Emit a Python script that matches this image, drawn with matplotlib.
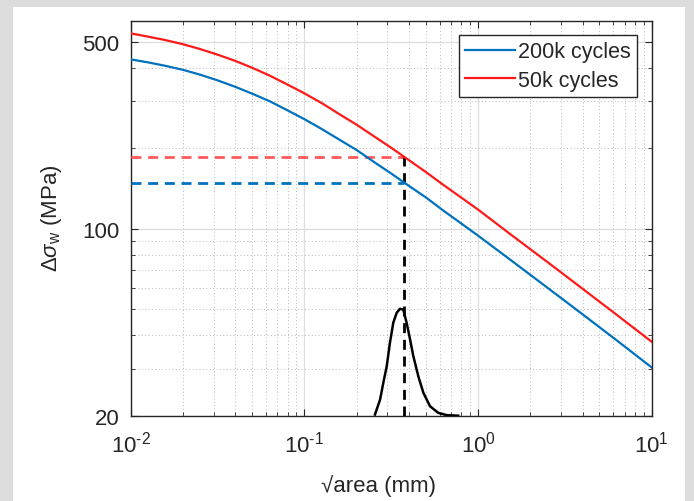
import matplotlib
matplotlib.use("Agg")
import matplotlib.pyplot as plt
from matplotlib.patches import Rectangle
from matplotlib.ticker import FixedLocator, FixedFormatter, LogLocator, NullFormatter

plt.rcParams['font.family'] = ['Liberation Sans', 'DejaVu Sans']
plt.rcParams['mathtext.fontset'] = 'custom'
plt.rcParams['mathtext.rm'] = 'Liberation Sans'
plt.rcParams['mathtext.it'] = 'Liberation Sans:italic'
plt.rcParams['mathtext.bf'] = 'Liberation Sans:bold'

# -------------------- DATA --------------------
size_mm = [0.01, 0.0126, 0.0158, 0.0200, 0.0251, 0.0316, 0.0398, 0.0501,
           0.0631, 0.0794, 0.1, 0.126, 0.158, 0.200, 0.251, 0.316,
           0.398, 0.501, 0.631, 1.0, 1.58, 2.51, 3.98, 6.31, 10.0]
limit_200k = [430, 419, 407, 393, 377, 359, 340, 320,
              300, 278, 257, 236, 216, 197, 178, 161,
              145, 131, 117, 94.3, 75.5, 60.2, 48.0, 38.2, 30.3]
limit_50k = [538, 523, 508, 490, 470, 448, 425, 400,
             374, 347, 321, 295, 269, 245, 222, 201,
             181, 163, 146, 118, 94.1, 75.1, 59.8, 47.6, 37.8]

# defect size distribution (drawn on the stress axis, base at 20)
dist_x = [0.255, 0.273, 0.285, 0.298, 0.311, 0.325, 0.340, 0.355, 0.371,
          0.388, 0.406, 0.424, 0.453, 0.484, 0.529, 0.590, 0.660, 0.769]
dist_y = [20.2, 23.0, 26.6, 30.6, 37.5, 44.5, 48.5, 50.2, 49.9,
          44.5, 38.6, 33.4, 28.1, 24.4, 21.7, 20.5, 20.1, 20.0]

d_crit = 0.375          # critical sqrt(area), mm
level_200k = 148        # MPa
level_50k = 186         # MPa

series_labels = ['200k cycles', '50k cycles']
x_ticks = [0.01, 0.1, 1, 10]
x_ticklabels = [r'$10^{\text{-}2}$', r'$10^{\text{-}1}$', r'$10^{0}$', r'$10^{1}$']
y_ticks = [20, 100, 500]
y_ticklabels = ['20', '100', '500']

# -------------------- STYLE --------------------
BLUE = '#0072BD'
RED = '#FF1A1A'
RED_DASH = '#FF5A5A'
AXC = '#262626'
FS = 16

fig = plt.figure(figsize=(6.94, 5.02), dpi=100, facecolor='#dcdcdc')
fig.add_artist(Rectangle((13 / 694, 0), (685 - 13) / 694, (502 - 8) / 502,
                         transform=fig.transFigure, facecolor='white',
                         edgecolor='none', zorder=-1))
ax = fig.add_axes([130.7 / 694, (502 - 416.7) / 502, 521 / 694, 395 / 502])

ax.plot(size_mm, limit_200k, color=BLUE, lw=1.6, label=series_labels[0], zorder=4)
ax.plot(size_mm, limit_50k, color=RED, lw=1.6, label=series_labels[1], zorder=4)

dash = (3.6, 2.4)
ax.plot([size_mm[0], d_crit], [level_50k, level_50k], color=RED_DASH, lw=2, dashes=dash, zorder=3)
ax.plot([size_mm[0], d_crit], [level_200k, level_200k], color=BLUE, lw=2, dashes=dash, zorder=3)
ax.plot([d_crit, d_crit], [y_ticks[0], level_50k], color='k', lw=2, dashes=dash, zorder=3)
ax.plot(dist_x, dist_y, color='k', lw=1.8, zorder=3)

ax.set_xscale('log')
ax.set_yscale('log')
ax.set_xlim(0.01, 10)
ax.set_ylim(20, 600)

ax.xaxis.set_major_locator(FixedLocator(x_ticks))
ax.xaxis.set_major_formatter(FixedFormatter(x_ticklabels))
ax.yaxis.set_major_locator(FixedLocator(y_ticks))
ax.yaxis.set_major_formatter(FixedFormatter(y_ticklabels))
ax.yaxis.set_minor_locator(LogLocator(base=10, subs=range(2, 10), numticks=20))
ax.yaxis.set_minor_formatter(NullFormatter())
ax.xaxis.set_minor_locator(LogLocator(base=10, subs=range(2, 10), numticks=20))
ax.xaxis.set_minor_formatter(NullFormatter())

ax.grid(which='major', color='#dedede', lw=0.9, ls='-')
ax.grid(which='minor', color='#b8b8b8', lw=0.7, ls=(0, (1, 2.5)))
ax.set_axisbelow(True)

ax.tick_params(which='both', direction='in', top=True, right=True,
               color=AXC, labelcolor=AXC, labelsize=FS)
ax.tick_params(which='major', length=5, width=0.8)
ax.tick_params(which='minor', length=3, width=0.6)
ax.tick_params(axis='x', which='major', pad=11)
ax.tick_params(axis='y', which='major', pad=8)
for sp in ax.spines.values():
    sp.set_color(AXC)
    sp.set_linewidth(1.0)

ax.set_xlabel('√area (mm)', fontsize=FS, color=AXC)
ax.xaxis.set_label_coords(0.475, -0.148)
ax.xaxis.label.set_va('top')
ax.set_ylabel(r'$\Delta\sigma_{\mathrm{w}}$ (MPa)', fontsize=FS, color=AXC)
ax.yaxis.set_label_coords(-0.128, 0.503)

leg = ax.legend(loc='upper right', bbox_to_anchor=(0.9718, 0.9638), borderaxespad=0,
                fontsize=15.5, fancybox=False, framealpha=1, edgecolor=AXC,
                handlelength=2.3, handletextpad=0.15, labelspacing=0.35,
                borderpad=0.3)
leg.get_frame().set_linewidth(1.0)
for t in leg.get_texts():
    t.set_color(AXC)

fig.savefig('out.png', dpi=100, facecolor=fig.get_facecolor())
